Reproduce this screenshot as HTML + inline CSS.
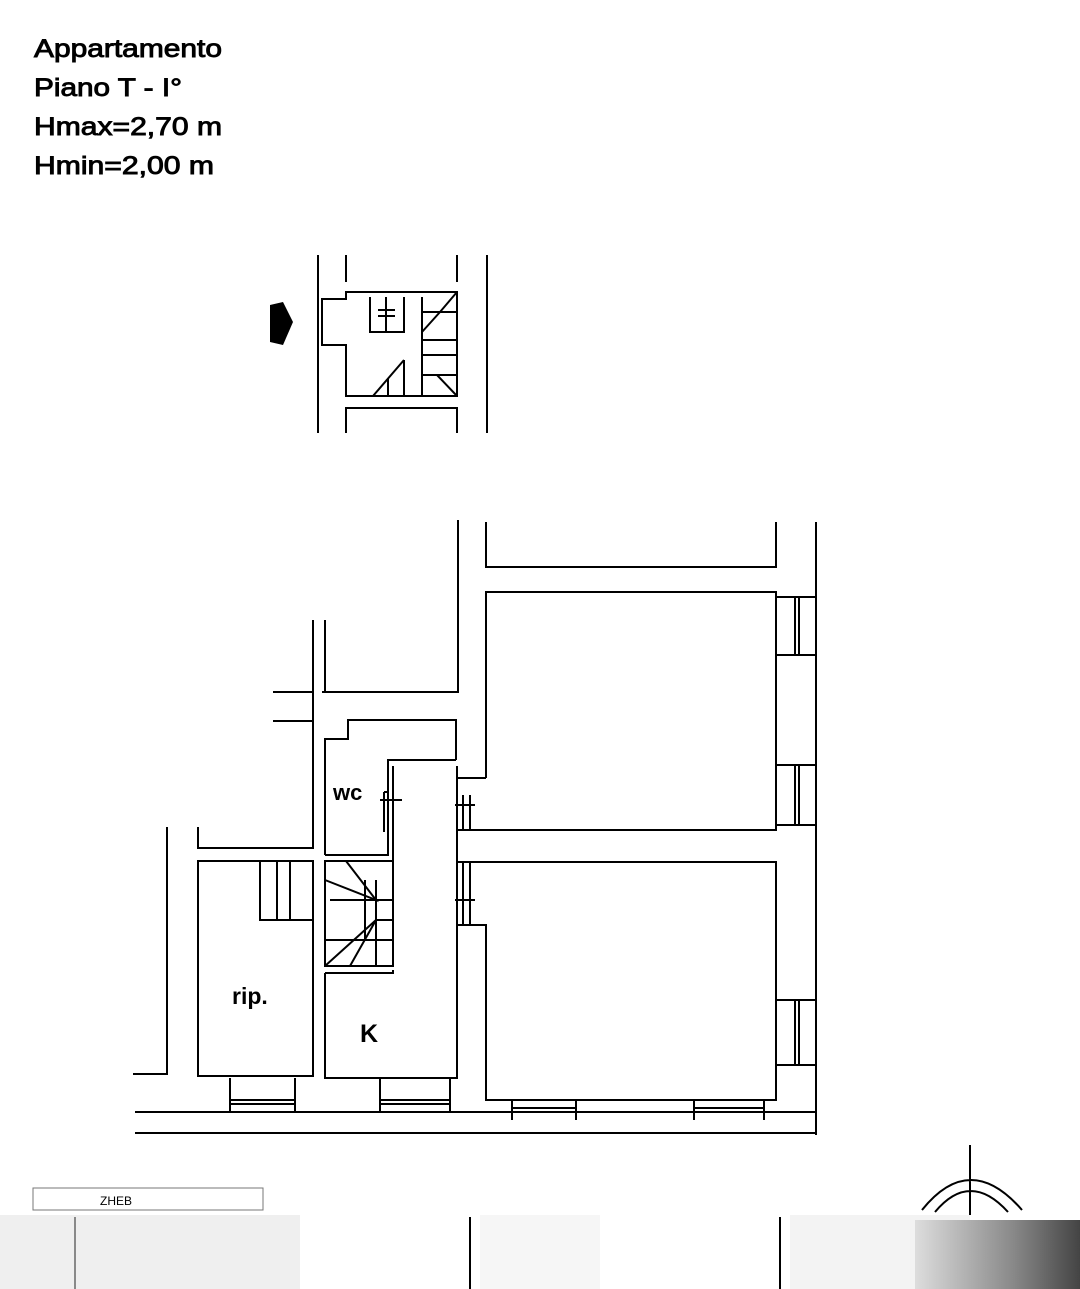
<!DOCTYPE html>
<html><head><meta charset="utf-8"><style>
html,body{margin:0;padding:0;background:#fff;}
svg{display:block}
text{font-family:"Liberation Sans",Arial,sans-serif;fill:#000}
</style></head><body>
<svg width="1080" height="1289" viewBox="0 0 1080 1289" xmlns="http://www.w3.org/2000/svg">
<rect width="1080" height="1289" fill="#fff"/>
<g font-size="25" style="stroke:#000;stroke-width:0.9">
<text x="34" y="57" textLength="188" lengthAdjust="spacingAndGlyphs">Appartamento</text>
<text x="34" y="96" textLength="148" lengthAdjust="spacingAndGlyphs">Piano T - I°</text>
<text x="34" y="135" textLength="188" lengthAdjust="spacingAndGlyphs">Hmax=2,70 m</text>
<text x="34" y="174" textLength="180" lengthAdjust="spacingAndGlyphs">Hmin=2,00 m</text>
</g>
<g stroke="#000" stroke-width="2" fill="none">
<path d="M318 255V433M487 255V433M346 255V282M457 255V282"/>
<path d="M346 292H457V396H346V345H322V299H346Z"/>
<path d="M346 433V408H457V433"/>
<path d="M370 297V332H404V297M386 297V332M378 310H395M378 316H395"/>
<path d="M422 297V396M457 292L440 312L422 332M422 312H457M422 340H457M422 355H457M422 375H457M437 375L457 396M373 396L404 360M388 396V378M404 360V396"/>
</g>
<path d="M270 305L283 302L293 322L283 345L270 342Z" fill="#000"/>
<g stroke="#000" stroke-width="2" fill="none">
<path d="M486 522V567H776V522M816 522V1135"/>
<path d="M486 778V592H776V830H486"/>
<path d="M458 778H486"/>
<path d="M486 862H776V1100H486V925H458"/>
<path d="M776 597H816M776 655H816M795 597V655M799 597V655"/>
<path d="M776 765H816M776 825H816M795 765V825M799 765V825"/>
<path d="M776 1000H816M776 1065H816M795 1000V1065M799 1065V1000"/>
<path d="M512 1100V1120M576 1100V1120M512 1112H576M512 1108H576"/>
<path d="M694 1100V1120M764 1100V1120M694 1112H764M694 1108H764"/>
<path d="M273 692H313V848H198V827M273 721H313"/>
<path d="M313 620V692M325 620V692M322 692H458V520"/>
<path d="M167 827V1074H133"/>
<path d="M198 861H313V1076H198Z"/>
<path d="M325 855V739H348V720H456V760"/>
<path d="M325 855H388V760H456"/>
<path d="M393 766V966H325V861H393"/>
<path d="M325 973H393V970M325 973V1078H457V766"/>
<path d="M457 766V778M458 830H486M458 862H486"/>
<path d="M260 861V920H313M277 861V920M290 861V920"/>
<path d="M325 940H365V880M325 880L376 900L346 861M376 900H393M376 920L325 966M376 920L350 966M376 920H393M365 940H393M330 900H393M376 880V966"/>
<path d="M384 792V832M380 800H402M463 795V830M470 795V830M455 805H475M463 862V925M470 862V925M455 900H475M384 792H388"/>
<path d="M230 1078V1112M295 1078V1112M230 1100H295M230 1104H295"/>
<path d="M380 1078V1112M450 1078V1112M380 1100H450M380 1104H450"/>
<path d="M135 1112H815M135 1133H815"/>
<path d="M470 1217V1289M780 1217V1289M75 1217V1289"/>
<path d="M970 1145V1215M922 1210Q970 1150 1022 1210M935 1212Q970 1170 1008 1212"/>
</g>
<text x="333" y="800" font-size="22" font-weight="bold">wc</text>
<text x="232" y="1004" font-size="23" font-weight="bold">rip.</text>
<text x="360" y="1042" font-size="25" font-weight="bold">K</text>
<rect x="33" y="1188" width="230" height="22" fill="none" stroke="#777" stroke-width="1"/>
<text x="100" y="1205" font-size="12" fill="#444">ZHEB</text>
<rect x="0" y="1215" width="300" height="74" fill="#e4e4e4" opacity="0.6"/>
<rect x="480" y="1215" width="120" height="74" fill="#f2f2f2" opacity="0.7"/>
<rect x="790" y="1215" width="180" height="74" fill="#eeeeee" opacity="0.7"/>
<defs><linearGradient id="g" x1="0" x2="1"><stop offset="0" stop-color="#ddd"/><stop offset="0.6" stop-color="#888"/><stop offset="1" stop-color="#444"/></linearGradient></defs>
<rect x="915" y="1220" width="165" height="69" fill="url(#g)"/>
</svg>
</body></html>
